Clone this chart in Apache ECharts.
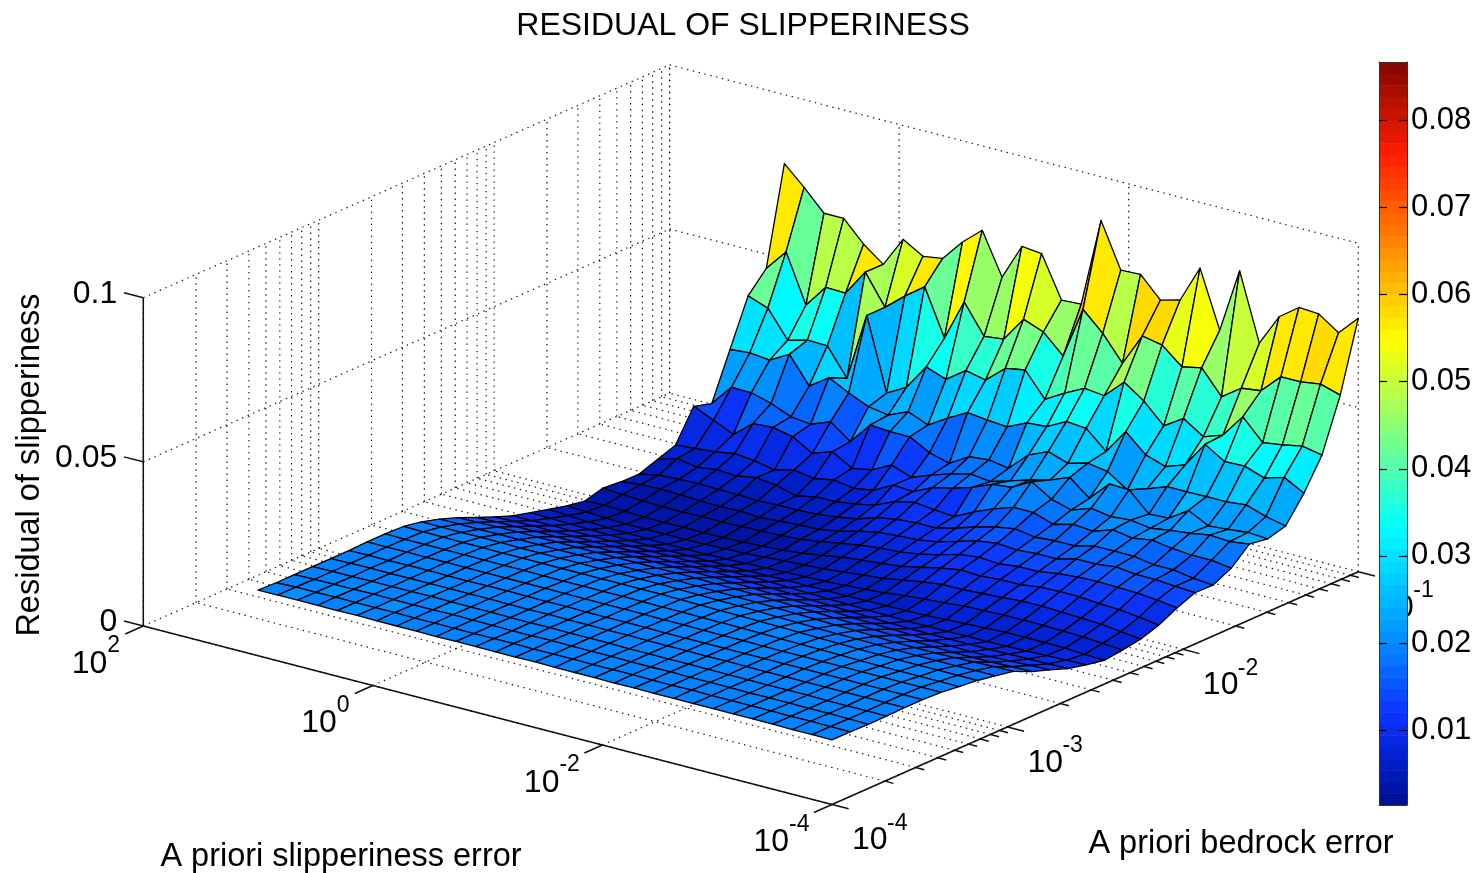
<!DOCTYPE html>
<html><head><meta charset="utf-8"><title>Residual of slipperiness</title>
<style>html,body{margin:0;padding:0;background:#fff}#c{width:1477px;height:873px}</style>
<script src="https://cdn.jsdelivr.net/npm/echarts@6/dist/echarts.min.js"></script></head>
<body><div id="c"></div><script>
// log10 of a-priori slipperiness error (30 columns) and a-priori bedrock error (30 rows)
const slipLog=[1,.828,.655,.483,.31,.138,-.034,-.207,-.379,-.552,-.724,-.897,-1.069,-1.241,-1.414,-1.586,-1.759,-1.931,-2.103,-2.276,-2.448,-2.621,-2.793,-2.966,-3.138,-3.31,-3.483,-3.655,-3.828,-4];
const bedLog=[-4,-3.897,-3.793,-3.69,-3.586,-3.483,-3.379,-3.276,-3.172,-3.069,-2.966,-2.862,-2.759,-2.655,-2.552,-2.448,-2.345,-2.241,-2.138,-2.034,-1.931,-1.828,-1.724,-1.621,-1.517,-1.414,-1.31,-1.207,-1.103,-1];
const r00=[.02,.02,.0201,.02,.02,.0201,.02,.02,.02,.0199,.02,.02,.0199,.0199,.02,.0199,.0199,.0199,.0198,.0199,.0198,.0198,.0198,.0198,.0198,.0198,.0198,.0197,.0197,.0197];
const r01=[.0198,.02,.02,.0201,.02,.02,.0201,.02,.02,.02,.0199,.02,.02,.0199,.0199,.02,.0199,.0199,.0199,.0198,.0198,.0199,.0198,.0198,.0198,.0198,.0197,.0198,.0197,.0197];
const r02=[.0198,.0199,.02,.02,.0201,.02,.02,.02,.0201,.02,.02,.0199,.0199,.02,.0199,.0199,.0199,.0198,.0198,.0199,.0198,.0198,.0198,.0197,.0198,.0197,.0197,.0197,.0196,.0195];
const r03=[.0198,.0199,.0199,.02,.02,.02,.0201,.02,.02,.02,.0199,.0199,.02,.0199,.0199,.0199,.0198,.0198,.0198,.0198,.0198,.0197,.0197,.0197,.0197,.0197,.0196,.0196,.0196,.0196];
const r04=[.0198,.0199,.02,.0199,.02,.02,.02,.02,.02,.0199,.0199,.02,.0199,.0199,.0198,.0199,.0198,.0198,.0198,.0197,.0198,.0197,.0197,.0197,.0197,.0197,.0197,.0197,.0197,.0197];
const r05=[.0198,.0199,.0199,.02,.02,.0199,.0199,.02,.02,.0199,.0199,.0199,.0198,.0198,.0198,.0198,.0197,.0197,.0197,.0197,.0197,.0197,.0197,.0197,.0197,.0197,.0197,.0197,.0197,.0197];
const r06=[.02,.02,.02,.02,.02,.02,.0199,.0199,.0199,.0199,.0199,.0198,.0198,.0198,.0198,.0197,.0197,.0196,.0196,.0196,.0195,.0195,.0195,.0195,.0195,.0195,.0195,.0195,.0195,.0195];
const r07=[.02,.0199,.0199,.0199,.0199,.0198,.0198,.0198,.0197,.0197,.0197,.0197,.0197,.0197,.0196,.0196,.0195,.0195,.0194,.0194,.0193,.0192,.0191,.019,.0189,.0188,.0188,.0188,.0188,.0188];
const r08=[.0198,.0197,.0197,.0196,.0196,.0195,.0195,.0195,.0195,.0195,.0195,.0195,.0195,.0195,.0194,.0193,.0192,.0191,.019,.0189,.0188,.0186,.0185,.0184,.0183,.0182,.0182,.0182,.0182,.0182];
const r09=[.0188,.0187,.0187,.0187,.0187,.0186,.0186,.0186,.0186,.0186,.0186,.0186,.0186,.0185,.0184,.0183,.0182,.0181,.0179,.0178,.0176,.0175,.0174,.0173,.0172,.0171,.0171,.0171,.0172,.0172];
const r10=[.0172,.0172,.0172,.0172,.0172,.0172,.0172,.0172,.0172,.0172,.0172,.0172,.0172,.0171,.017,.0169,.0168,.0167,.0165,.0163,.0161,.016,.0158,.0156,.0155,.0155,.0156,.0158,.016,.0161];
const r11=[.0152,.0153,.0154,.0155,.0155,.0155,.0155,.0155,.0155,.0155,.0155,.0155,.0155,.0154,.0153,.0152,.015,.0148,.0146,.0143,.0141,.0139,.0137,.0135,.0133,.0132,.0132,.0133,.0135,.0136];
const r12=[.0128,.013,.0131,.0132,.0132,.0132,.0132,.0132,.0133,.0133,.0133,.0133,.0133,.0132,.0131,.0129,.0127,.0125,.0123,.012,.0118,.0116,.0114,.0112,.0111,.011,.011,.0112,.0115,.0117];
const r13=[.0105,.0107,.0108,.0108,.0108,.0108,.0109,.0109,.0109,.0109,.011,.011,.011,.0109,.0107,.0105,.0102,.01,.0098,.0096,.0094,.0093,.0092,.0092,.0092,.0092,.0093,.0094,.0095,.0096];
const r14=[.0084,.0085,.0085,.0085,.0085,.0085,.0085,.0085,.0086,.0086,.0086,.0087,.0087,.0086,.0084,.0082,.008,.0079,.0077,.0076,.0075,.0075,.0075,.0076,.0076,.0077,.0078,.008,.0082,.0083];
const r15=[.0069,.0067,.0065,.0064,.0063,.0062,.0062,.0062,.0062,.0062,.0063,.0063,.0064,.0065,.0065,.0065,.0065,.0066,.0066,.0067,.0068,.0071,.0074,.0077,.0079,.008,.0079,.0078,.0075,.0072];
const r16=[.0055,.0051,.0048,.0045,.0044,.0043,.0042,.0042,.0042,.0044,.0046,.0048,.005,.0052,.0054,.0057,.0061,.0066,.0073,.0078,.0082,.0088,.009,.0092,.0092,.0092,.009,.0088,.0084,.0079];
const r17=[.0041,.0037,.0034,.0032,.0032,.0032,.0032,.0033,.0035,.0037,.0041,.0045,.0048,.0052,.0058,.0064,.007,.008,.009,.0098,.0098,.0102,.0105,.011,.011,.0108,.0105,.0102,.0095,.0088];
const r18=[.0031,.0034,.0031,.0029,.0028,.0029,.0028,.0029,.0031,.0034,.0038,.0044,.0053,.0063,.007,.0075,.0082,.0095,.0108,.0118,.0115,.012,.012,.0128,.013,.013,.0125,.0122,.0115,.0106];
const r19=[.0046,.0042,.0038,.0036,.0035,.0037,.0036,.0038,.004,.0042,.0046,.0055,.0065,.0075,.0082,.0085,.0095,.0108,.0125,.0132,.0128,.0135,.0135,.0145,.015,.0152,.015,.0148,.0142,.0134];
const r20=[.0041,.0048,.005,.0048,.0045,.0043,.0045,.0042,.0046,.005,.0052,.0062,.0078,.009,.0095,.0098,.0108,.0125,.0142,.015,.0145,.015,.015,.0165,.0165,.0172,.0165,.0165,.016,.0156];
const r21=[.004,.0052,.0055,.0058,.0056,.0055,.0052,.0055,.0055,.0058,.0065,.0075,.0095,.0105,.011,.011,.0125,.0145,.016,.017,.016,.0165,.0165,.018,.018,.018,.017,.017,.016,.0155];
const r22=[.006,.0078,.0067,.0076,.0072,.0083,.0075,.0058,.0071,.0072,.008,.0093,.0119,.0132,.0125,.012,.015,.0175,.0195,.0195,.0175,.019,.0185,.0205,.0195,.0205,.0195,.019,.019,.0182];
const r23=[.0079,.0085,.009,.01,.0094,.0081,.0097,.0087,.0098,.0088,.0098,.0129,.0125,.0153,.0166,.0185,.021,.0216,.0249,.0211,.0194,.0215,.0205,.021,.0201,.021,.0217,.0227,.0223,.0231];
const r24=[.0173,.0146,.0118,.0167,.0171,.0158,.0123,.0144,.0109,.012,.015,.0128,.0151,.017,.0185,.0178,.0196,.0214,.0229,.0253,.0205,.0264,.0262,.0204,.0207,.0246,.0215,.022,.0226,.0222];
const r25=[.0157,.0222,.0221,.0204,.0179,.0172,.0195,.015,.0216,.0212,.0212,.0179,.0162,.0198,.0204,.0194,.025,.0276,.0256,.0272,.0262,.0222,.0241,.0263,.0263,.0264,.0264,.027,.025,.0237];
const r26=[.0297,.0302,.0296,.0329,.0248,.0289,.0258,.0232,.0222,.0248,.0223,.026,.0292,.0285,.028,.0308,.0312,.0343,.0338,.0283,.0359,.0304,.0284,.0305,.0383,.0346,.0348,.0327,.0345,.0312];
const r27=[.0436,.0414,.0332,.0348,.0346,.0263,.047,.0249,.0282,.036,.0338,.038,.0367,.0418,.0429,.0355,.039,.042,.0413,.047,.0428,.0368,.0406,.0366,.0387,.0458,.0395,.0404,.0416,.0404];
const r28=[.0495,.0561,.0414,.0484,.0482,.0562,.047,.052,.0564,.0423,.0549,.046,.0467,.0543,.052,.0462,.062,.0563,.0487,.0586,.0574,.0523,.0536,.0463,.0505,.0513,.0571,.0571,.058,.0562];
const r29=[.079,.0733,.067,.067,.0607,.0561,.0653,.0617,.0626,.0692,.0743,.0616,.0725,.0719,.0593,.0596,.0867,.0731,.0734,.0671,.0687,.08,.0626,.0823,.0618,.0714,.0758,.0754,.0712,.0772];
const residual=[r00,r01,r02,r03,r04,r05,r06,r07,r08,r09,r10,r11,r12,r13,r14,r15,r16,r17,r18,r19,r20,r21,r22,r23,r24,r25,r26,r27,r28,r29];

const slipTicks=[2,0,-2,-4];
const bedDecades=[-4,-3,-2,-1];
const bedMinorMult=[2,3,4,5,6,7,8,9];
const zTicks=[0,.05,.1];
const zTickLabels=['0','0.05','0.1'];
const barTicks=[.01,.02,.03,.04,.05,.06,.07,.08];
const colorMin=.0014,colorMax=.0867,levels=64;
const titleText='RESIDUAL OF SLIPPERINESS';
const FONT='"Liberation Sans", Arial, sans-serif';

// orthographic view of the 3-D axes box, expressed in the hidden plane axes' units
const view={ox:832,oy:804.5,ux:-688.7/6,uy:-178.5/6,vx:526.3/3,vy:-232.8/3,zy:-3283};
function proj(xl,yl,z){const a=xl+4,b=yl+4;return [view.ox+view.ux*a+view.vx*b,view.oy+view.uy*a+view.vy*b+view.zy*z];}

const stops=[[0,[0,15,143]],[.0625,[0,32,205]],[.125,[12,52,255]],[.25,[0,165,255]],[.375,[0,255,255]],[.5,[128,255,128]],[.625,[255,255,0]],[.75,[255,140,0]],[.875,[255,30,0]],[1,[128,8,0]]];
function levelColor(k){const t=(k+.5)/levels;let a=stops[0],b=stops[1];for(let s=0;s<stops.length-1;s++){if(t>=stops[s][0]&&t<=stops[s+1][0]){a=stops[s];b=stops[s+1];break;}}
 const f=(t-a[0])/(b[0]-a[0]);const c=a[1].map((v,n)=>Math.round(v+(b[1][n]-v)*f));return `rgb(${c[0]},${c[1]},${c[2]})`;}
function zColor(z){let k=Math.floor((z-colorMin)/(colorMax-colorMin)*levels);k=Math.max(0,Math.min(levels-1,k));return levelColor(k);}

// ---- box, grid and tick segments in data space
const bedAll=[];bedDecades.forEach((d,n)=>{bedAll.push(d);if(n<bedDecades.length-1)bedMinorMult.forEach(m=>bedAll.push(d+Math.log10(m)));});
const segs=[];
function seg(a,b,solid){segs.push([a[0],a[1],a[2],b[0],b[1],b[2],solid?1:0]);}
bedAll.forEach(y=>{seg([-4,y,0],[2,y,0]);seg([2,y,0],[2,y,.1]);});
slipTicks.forEach(x=>{seg([x,-4,0],[x,-1,0]);seg([x,-1,0],[x,-1,.1]);});
[.05,.1].forEach(z=>{seg([2,-4,z],[2,-1,z]);seg([2,-1,z],[-4,-1,z]);});
seg([2,-4,0],[2,-4,.1],1);seg([2,-4,0],[-4,-4,0],1);seg([-4,-4,0],[-4,-1,0],1);
zTicks.forEach(z=>seg([2,-4,z],[2.168,-4,z],1));
slipTicks.forEach(x=>seg([x,-4,0],[x,-4.103,0],1));
bedAll.forEach(y=>{const major=bedDecades.indexOf(y)>=0;seg([-4,y,0],[major?-4.145:-4.075,y,0],1);});

// ---- facets, far to near
const facets=[];
for(let j=bedLog.length-2;j>=0;j--)for(let i=0;i<slipLog.length-1;i++)facets.push([i,j]);

const colorBarData=[];for(let k=0;k<levels;k++)colorBarData.push([k]);

// ---- tick labels as [kind,index]
const labels=[];slipTicks.forEach((_,n)=>labels.push([0,n]));bedDecades.forEach((_,n)=>labels.push([1,n]));zTicks.forEach((_,n)=>labels.push([2,n]));

function txt(x,y,t,size,align){return {type:'text',style:{x,y,text:t,fontSize:size,fontFamily:FONT,fill:'#000',align,verticalAlign:'middle'}};}

const option={animation:false,
 grid:[{left:0,top:0,width:1477,height:873,show:false},{left:1379,top:62,width:28,height:743,show:false}],
 xAxis:[{gridIndex:0,type:'value',min:0,max:1477,show:false},
  {gridIndex:1,type:'value',min:0,max:1,position:'bottom',z:10,axisLine:{show:true,lineStyle:{color:'#333',width:1}},axisTick:{show:false},axisLabel:{show:false},splitLine:{show:false}},
  {gridIndex:1,type:'value',min:0,max:1,position:'top',z:10,axisLine:{show:true,lineStyle:{color:'#333',width:1}},axisTick:{show:false},axisLabel:{show:false},splitLine:{show:false}}],
 yAxis:[{gridIndex:0,type:'value',min:0,max:873,inverse:true,show:false},
  {gridIndex:1,type:'value',min:colorMin,max:colorMax,position:'right',z:10,axisLine:{show:true,onZero:false,lineStyle:{color:'#333',width:1}},
   axisTick:{show:true,inside:true,length:8,customValues:barTicks,lineStyle:{color:'#000',width:1.2}},
   axisLabel:{show:true,customValues:barTicks,margin:4,fontSize:31,fontFamily:FONT,color:'#000',formatter:v=>v.toFixed(2)},splitLine:{show:false}},
  {gridIndex:1,type:'value',min:colorMin,max:colorMax,position:'left',z:10,axisLine:{show:true,onZero:false,lineStyle:{color:'#333',width:1}},
   axisTick:{show:true,inside:true,length:8,customValues:barTicks,lineStyle:{color:'#000',width:1.2}},axisLabel:{show:false},splitLine:{show:false}}],
 graphic:[
  {type:'text',z:20,style:{x:743,y:26,text:titleText,fontSize:32,fontFamily:FONT,fill:'#000',align:'center',verticalAlign:'middle'}},
  {type:'text',z:20,style:{x:341,y:857,text:'A priori slipperiness error',fontSize:32.5,fontFamily:FONT,fill:'#000',align:'center',verticalAlign:'middle'}},
  {type:'text',z:20,style:{x:1241,y:844,text:'A priori bedrock error',fontSize:32.5,fontFamily:FONT,fill:'#000',align:'center',verticalAlign:'middle'}},
  {type:'text',z:20,x:30,y:465,rotation:Math.PI/2,style:{x:0,y:0,text:'Residual of slipperiness',fontSize:32.5,fontFamily:FONT,fill:'#000',align:'center',verticalAlign:'middle'}}
 ],
 series:[
  {type:'custom',name:'box',coordinateSystem:'cartesian2d',xAxisIndex:0,yAxisIndex:0,z:1,silent:true,clip:false,progressive:0,data:segs.map((s,n)=>[n]),
   renderItem(p,api){const s=segs[api.value(0)];const a=api.coord(proj(s[0],s[1],s[2])),b=api.coord(proj(s[3],s[4],s[5]));
    return {type:'line',shape:{x1:a[0],y1:a[1],x2:b[0],y2:b[1]},style:s[6]?{stroke:'#111',lineWidth:1.5}:{stroke:'#111',lineWidth:1.2,lineDash:[1.4,4.6]}};}},
  {type:'custom',name:'residual surface',coordinateSystem:'cartesian2d',xAxisIndex:0,yAxisIndex:0,z:2,silent:true,clip:false,progressive:0,data:facets,
   renderItem(p,api){const i=api.value(0),j=api.value(1);
    const pts=[[i,j],[i+1,j],[i+1,j+1],[i,j+1]].map(q=>api.coord(proj(slipLog[q[0]],bedLog[q[1]],residual[q[1]][q[0]])));
    return {type:'polygon',shape:{points:pts},style:{fill:zColor(residual[j][i+1]),stroke:'#000',lineWidth:1.3,lineJoin:'round'}};}},
  {type:'custom',name:'tick labels',coordinateSystem:'cartesian2d',xAxisIndex:0,yAxisIndex:0,z:3,silent:true,clip:false,progressive:0,data:labels,
   renderItem(p,api){const kind=api.value(0),n=api.value(1);
    if(kind===2){const c=api.coord(proj(2,-4,zTicks[n]));return txt(c[0]-26,c[1]-4,zTickLabels[n],32,'right');}
    if(kind===0){const e=slipTicks[n],c=api.coord(proj(e,-4,0)),w=e<0?20:13,r=c[0]-23-w;
     return {type:'group',children:[txt(r,c[1]+38,'10',32,'right'),txt(r,c[1]+20,String(e),23,'left')]};}
    const e=bedDecades[n],c=api.coord(proj(-4,e,0)),l=c[0]+20;
    return {type:'group',children:[txt(l,c[1]+36,'10',32,'left'),txt(l+35,c[1]+19,String(e),23,'left')]};}},
  {type:'custom',name:'colorbar',coordinateSystem:'cartesian2d',xAxisIndex:1,yAxisIndex:1,z:4,silent:true,clip:false,progressive:0,data:colorBarData,
   renderItem(p,api){const k=api.value(0),h=(colorMax-colorMin)/levels;const a=api.coord([0,colorMin+k*h]),b=api.coord([1,colorMin+(k+1)*h]);
    return {type:'rect',shape:{x:a[0],y:b[1],width:b[0]-a[0],height:a[1]-b[1]+.5},style:{fill:levelColor(k)}};}}
 ]};
const chart=echarts.init(document.getElementById('c'),null,{renderer:'canvas',width:1477,height:873});
chart.setOption(option);
</script></body></html>
